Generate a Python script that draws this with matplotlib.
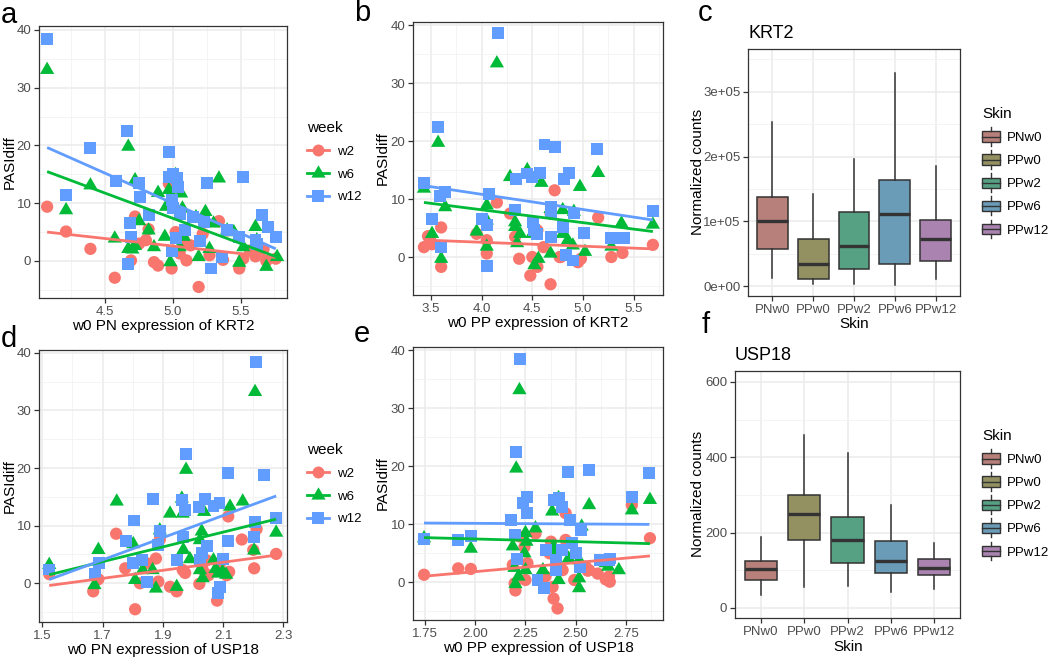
import numpy as np
import matplotlib
matplotlib.use("Agg")
import matplotlib.pyplot as plt
from matplotlib.lines import Line2D
from matplotlib.patches import Patch, Rectangle
from matplotlib.legend_handler import HandlerBase
from matplotlib.ticker import FixedLocator, FormatStrFormatter

plt.rcParams['font.family'] = ['Liberation Sans', 'DejaVu Sans']

# ---------------- data ----------------
week_labels = ['w2', 'w6', 'w12']
week_colors = ['#F8766D', '#00BA38', '#619CFF']

# panel a: w0 PN expression of KRT2
a_w2_x = [4.07, 4.21, 4.39, 4.57, 4.69, 4.72, 4.75, 4.82, 4.86, 4.89, 4.99, 4.97, 5.02, 5.05, 5.10, 5.13,
          5.19, 5.22, 5.27, 5.34, 5.37, 5.40, 5.49, 5.52, 5.61, 5.67, 5.69, 5.76, 5.57, 5.08, 4.80, 5.00]
a_w2_y = [9.4, 5.1, 2.1, -2.9, 0.1, 7.7, 3.0, 5.5, -0.2, -0.8, -1.3, 13.4, 5.0, 1.3, 0.1, 2.7,
          -4.5, 4.7, 1.0, 6.9, 0.2, 5.3, -1.3, 0.4, 0.8, 2.1, 0.0, 0.4, 1.8, 3.6, 3.6, 1.8]
a_w6_x = [4.07, 4.21, 4.39, 4.67, 4.57, 4.67, 4.72, 4.75, 4.82, 4.86, 4.89, 4.94, 4.98, 4.97, 5.02, 5.06,
          5.07, 5.08, 5.17, 5.19, 5.24, 5.27, 5.34, 5.40, 5.49, 5.52, 5.61, 5.69, 5.77, 5.62, 5.05, 4.95,
          5.45, 5.30, 4.70, 4.72]
a_w6_y = [33.1, 8.8, 13.1, 19.8, 3.9, 2.1, 14.0, 6.9, 5.3, 2.4, 11.8, 4.2, -0.2, 12.3, 14.9, 11.7,
          9.1, 4.2, 7.6, 0.7, 8.5, 2.1, 14.3, 5.3, -0.3, 2.4, 5.9, -1.0, 0.7, 3.6, 2.4, 9.4,
          5.0, 6.5, 2.0, 2.6]
a_w12_x = [4.07, 4.21, 4.39, 4.58, 4.66, 4.68, 4.69, 4.67, 4.75, 4.76, 4.82, 4.97, 4.97, 5.00, 5.03, 5.04,
           4.99, 5.00, 5.05, 5.09, 5.02, 4.99, 5.15, 5.20, 5.23, 5.25, 5.28, 5.36, 5.40, 5.49, 5.52, 5.61,
           5.62, 5.66, 5.70, 5.76]
a_w12_y = [38.5, 11.4, 19.5, 13.9, 22.5, 6.6, 4.2, -0.5, 13.5, 11.0, 8.0, 18.9, 14.6, 15.1, 14.3, 12.8,
           10.5, 9.1, 8.2, 5.3, 4.0, 1.8, 7.6, 3.4, 6.8, 13.5, -1.3, 0.7, 5.4, 4.2, 14.6, 3.6,
           2.9, 7.9, 5.9, 4.2]

# panel b: w0 PP expression of KRT2
b_w2_x = [3.43, 3.51, 3.60, 3.60, 3.49, 3.95, 4.05, 4.05, 4.15, 4.28, 4.33, 4.37, 4.48, 4.50, 4.55, 4.61,
          4.68, 4.72, 4.68, 4.78, 4.95, 4.98, 5.15, 5.28, 5.39, 4.55, 5.69, 3.47, 4.77]
b_w2_y = [1.7, 2.2, 5.1, -1.7, 3.0, 4.0, 0.6, 2.9, 9.4, 7.5, 3.5, -0.3, -3.2, 0.0, -1.7, 1.7,
          -4.7, 11.5, 7.5, 0.0, -0.9, -0.3, 6.8, 0.0, 0.7, 4.6, 2.1, 3.6, 0.0]
b_w6_x = [4.15, 3.57, 3.43, 3.51, 3.60, 3.64, 3.95, 4.05, 4.05, 4.05, 4.28, 4.33, 4.33, 4.38, 4.35, 4.45,
          4.59, 4.50, 4.52, 4.56, 4.68, 4.68, 4.80, 4.80, 4.85, 4.91, 4.97, 5.02, 4.90, 5.15, 5.38, 5.28, 5.69]
b_w6_y = [33.4, 19.7, 11.8, 4.0, -0.3, 8.6, 4.4, 1.8, 8.9, 6.3, 13.8, 6.0, 5.2, 4.0, 2.4, 15.0,
          12.8, 4.0, -1.4, -0.3, 8.3, 0.6, 8.1, 4.0, 2.9, 7.8, 12.1, 0.9, 2.0, 14.5, 5.8, 1.8, 5.6]
b_w12_x = [4.16, 3.57, 3.43, 3.51, 3.60, 3.59, 3.64, 4.07, 4.00, 4.05, 4.05, 4.33, 4.34, 4.45, 4.50, 4.58,
           4.62, 4.72, 4.51, 4.52, 4.55, 4.68, 4.68, 4.68, 4.80, 4.81, 4.86, 4.91, 4.83, 4.90, 5.01, 5.14,
           5.28, 5.38, 5.69, 5.41]
b_w12_y = [38.6, 22.4, 12.8, 6.5, 1.7, 10.6, 11.2, 10.8, 6.6, 5.5, -1.6, 8.1, 13.4, 14.4, 13.8, 14.5,
           19.4, 19.0, 6.0, 4.6, 4.0, 8.6, 7.5, 3.5, 5.2, 13.4, 14.5, 7.5, 0.3, -0.6, 4.1, 18.6,
           3.2, 3.2, 7.9, 3.2]

# panel d: w0 PN expression of USP18
d_w2_x = [1.523, 1.669, 1.686, 1.745, 1.775, 1.808, 1.824, 1.846, 1.877, 1.890, 1.885, 1.924, 1.946, 1.966,
          1.974, 2.021, 2.032, 2.051, 2.080, 2.090, 2.112, 2.120, 2.117, 2.162, 2.203, 2.200, 2.211, 2.276, 2.045]
d_w2_y = [1.6, -1.4, 0.7, 8.6, 2.6, -4.5, 0.0, 3.5, 4.3, 7.6, 0.3, -0.6, -1.4, 2.3,
          1.8, -0.1, 2.4, 1.4, -3.0, 3.5, 1.4, 2.0, 11.6, 7.6, 2.6, 5.8, 9.4, 5.1, 4.0]
d_w6_x = [2.206, 1.977, 1.747, 1.523, 1.686, 1.673, 1.802, 1.808, 1.833, 1.866, 1.877, 1.890, 1.924, 1.946,
          1.963, 1.966, 1.968, 1.990, 2.029, 2.023, 2.032, 2.037, 2.068, 2.084, 2.098, 2.123, 2.165, 2.203,
          2.276, 2.023, 2.110, 2.075]
d_w6_y = [33.2, 19.7, 14.2, 3.2, 5.8, -0.3, 6.8, 0.6, 2.3, 2.3, -0.9, 9.2, 12.1, -0.6,
          14.7, 12.1, 5.8, 4.2, 9.0, 2.3, 0.9, 12.4, 4.0, 1.7, 2.0, 13.3, 14.2, 5.7,
          8.8, 7.5, 1.5, 2.5]
d_w12_x = [2.209, 2.236, 2.117, 1.977, 1.868, 1.805, 1.778, 1.688, 1.675, 1.523, 1.802, 1.830, 1.846, 1.885,
           1.890, 1.946, 1.963, 1.974, 1.966, 2.021, 2.040, 2.068, 2.088, 2.029, 2.045, 2.023, 2.100, 2.090,
           2.084, 2.115, 2.203, 2.206, 2.276]
d_w12_y = [38.4, 18.8, 19.2, 22.5, 14.6, 10.9, 7.4, 3.5, 1.7, 2.4, 3.5, 4.0, 0.3, 6.6,
           9.0, 4.0, 14.5, 12.7, 8.0, 13.3, 14.7, 13.4, 13.9, 5.2, 6.4, 4.0, 4.2, -0.6,
           -1.7, 7.4, 8.1, 10.7, 11.4]

# panel e: w0 PP expression of USP18
e_w2_x = [1.745, 1.915, 1.978, 2.187, 2.196, 2.200, 2.220, 2.245, 2.260, 2.250, 2.300, 2.350, 2.377, 2.385,
          2.390, 2.410, 2.435, 2.450, 2.493, 2.550, 2.567, 2.666, 2.370, 2.450, 2.780, 2.870, 2.670, 2.560,
          2.610, 2.650]
e_w2_y = [1.3, 2.4, 2.3, 3.0, -0.2, -1.4, 7.9, 6.1, 3.3, 0.4, 8.4, 1.0, 7.0, -0.8,
          -2.8, -4.5, 2.1, 11.9, 0.4, 2.7, 2.1, 1.0, 5.0, 7.3, 13.3, 7.6, 0.1, 2.0,
          1.5, 0.5]
e_w6_x = [1.745, 1.978, 2.187, 2.200, 2.245, 2.250, 2.255, 2.300, 2.250, 2.337, 2.383, 2.415, 2.415, 2.400,
          2.465, 2.517, 2.517, 2.530, 2.567, 2.662, 2.220, 2.204, 2.390, 2.517, 2.780, 2.870, 2.715, 2.650,
          2.215, 2.195]
e_w6_y = [7.6, 5.8, 6.2, -0.3, 5.0, 8.5, 7.0, 9.3, 2.1, 2.1, 12.2, 14.5, 0.4, 5.5,
          4.1, 0.7, -1.0, 9.6, 13.3, 2.7, 33.1, 19.6, 6.1, 3.8, 12.4, 14.2, 2.1, 3.3,
          1.0, 2.5]
e_w12_x = [1.745, 1.915, 1.980, 2.180, 2.196, 2.210, 2.236, 2.256, 2.260, 2.350, 2.310, 2.344, 2.390, 2.418,
           2.430, 2.400, 2.400, 2.430, 2.460, 2.470, 2.480, 2.526, 2.520, 2.566, 2.670, 2.780, 2.867, 2.666,
           2.222, 2.205, 2.500, 2.620]
e_w12_y = [7.4, 7.3, 8.0, 10.7, 8.1, 4.0, 13.6, 14.7, 11.9, 5.6, 0.4, -1.0, 14.2, 14.5,
           13.0, 3.8, 2.1, 5.6, 19.0, 10.7, 6.7, 9.0, 2.7, 19.3, 4.1, 14.7, 18.8, 3.8,
           38.4, 22.5, 5.0, 3.9]

# boxplots
skin_groups = ['PNw0', 'PPw0', 'PPw2', 'PPw6', 'PPw12']
skin_colors = ['#B8807A', '#939162', '#56A084', '#6A9BB7', '#AA83B1']

krt2_whislo = [0.12e5, 0.03e5, 0.04e5, 0.02e5, 0.11e5]
krt2_q1 = [0.58e5, 0.11e5, 0.27e5, 0.35e5, 0.39e5]
krt2_med = [1.01e5, 0.35e5, 0.62e5, 1.12e5, 0.73e5]
krt2_q3 = [1.37e5, 0.73e5, 1.14e5, 1.64e5, 1.02e5]
krt2_whishi = [2.54e5, 1.43e5, 1.97e5, 3.29e5, 1.85e5]
krt2_yticks = [0, 1e5, 2e5, 3e5]
krt2_yticklabels = ['0e+00', '1e+05', '2e+05', '3e+05']

usp18_whislo = [34, 56, 58, 42, 50]
usp18_q1 = [75, 179, 119, 93, 88]
usp18_med = [104, 250, 181, 125, 105]
usp18_q3 = [125, 300, 240, 177, 130]
usp18_whishi = [187, 460, 410, 273, 173]
usp18_yticks = [0, 200, 400, 600]

# tick positions of scatter panels
a_xticks = [4.5, 5.0, 5.5]
b_xticks = [3.5, 4.0, 4.5, 5.0, 5.5]
d_xticks = [1.5, 1.7, 1.9, 2.1, 2.3]
e_xticks = [1.75, 2.00, 2.25, 2.50, 2.75]
pasi_yticks = [0, 10, 20, 30, 40]

# ---------------- figure ----------------
W, H = 1050, 658
fig = plt.figure(figsize=(W / 100, H / 100), dpi=100)
fig.patch.set_facecolor('white')

tri = [(0, 1), (-0.866, -0.5), (0.866, -0.5)]
week_markers = ['o', tri, 's']
week_sizes = [78, 140, 74]
week_msizes = [8.6, 11.8, 8.4]

def add_ax(l, r, t, b):
    return fig.add_axes([l / W, 1 - b / H, (r - l) / W, (b - t) / H])

def fx(px):
    return px / W

def fy(py):
    return 1 - py / H

def midpoints(ticks, lo, hi):
    step = ticks[1] - ticks[0]
    out = []
    v = ticks[0] - step / 2
    while v < hi + step:
        if lo < v < hi:
            out.append(v)
        v += step
    return out

def style(ax):
    ax.set_facecolor('white')
    for s in ax.spines.values():
        s.set_color('#333333')
        s.set_linewidth(0.9)
    ax.grid(which='major', color='#EBEBEB', lw=1.1)
    ax.grid(which='minor', color='#F2F2F2', lw=0.6)
    ax.set_axisbelow(True)
    ax.tick_params(which='major', length=3.5, width=0.9, color='#333333',
                   labelcolor='#4D4D4D', labelsize=9.5, pad=2)
    ax.tick_params(which='minor', length=0)

def place_labels(ax, xlabel, xpos, ylabel, ypos):
    ax.set_xlabel(xlabel, fontsize=11, color='black')
    ax.xaxis.set_label_coords(fx(xpos[0]), fy(xpos[1]), transform=fig.transFigure)
    ax.xaxis.label.set_va('center')
    ax.set_ylabel(ylabel, fontsize=11, color='black')
    ax.yaxis.set_label_coords(fx(ypos[0]), fy(ypos[1]), transform=fig.transFigure)
    ax.yaxis.label.set_va('center')

def scatter_panel(ax, series, xlim, ylim, xticks, xfmt):
    style(ax)
    for (x, y), c, m, s in zip(series, week_colors, week_markers, week_sizes):
        ax.scatter(x, y, marker=m, s=s, color=c, edgecolors='none', zorder=2)
    for (x, y), c in zip(series, week_colors):
        coef = np.polyfit(x, y, 1)
        xs = np.array([min(x), max(x)])
        ax.plot(xs, np.polyval(coef, xs), color=c, lw=2, zorder=3, solid_capstyle='butt')
    ax.set_xlim(*xlim)
    ax.set_ylim(*ylim)
    ax.xaxis.set_major_locator(FixedLocator(xticks))
    ax.xaxis.set_minor_locator(FixedLocator(midpoints(xticks, *xlim)))
    ax.xaxis.set_major_formatter(FormatStrFormatter(xfmt))
    ax.yaxis.set_major_locator(FixedLocator(pasi_yticks))
    ax.yaxis.set_minor_locator(FixedLocator(midpoints(pasi_yticks, *ylim)))

def box_panel(ax, whislo, q1, med, q3, whishi, ylim, yticks, yticklabels, title):
    style(ax)
    stats = [dict(whislo=a, q1=b, med=c, q3=d, whishi=e)
             for a, b, c, d, e in zip(whislo, q1, med, q3, whishi)]
    bp = ax.bxp(stats, positions=range(1, len(stats) + 1), widths=0.75, patch_artist=True,
                showfliers=False, showcaps=False,
                boxprops=dict(edgecolor='#333333', lw=1.1),
                whiskerprops=dict(color='#333333', lw=1.1),
                medianprops=dict(color='#333333', lw=2.4, solid_capstyle='butt'))
    for patch, col in zip(bp['boxes'], skin_colors):
        patch.set_facecolor(col)
    ax.set_xlim(0.4, len(stats) + 0.6)
    ax.set_ylim(*ylim)
    ax.set_xticks(range(1, len(stats) + 1))
    ax.set_xticklabels(skin_groups)
    ax.yaxis.set_major_locator(FixedLocator(yticks))
    ax.set_yticklabels(yticklabels)
    ax.yaxis.set_minor_locator(FixedLocator(midpoints(yticks, *ylim)))
    ax.set_title(title, loc='left', fontsize=13, pad=8)

# panel a
ax_a = add_ax(39, 287, 26, 298)
scatter_panel(ax_a, [(a_w2_x, a_w2_y), (a_w6_x, a_w6_y), (a_w12_x, a_w12_y)],
              (4.01, 5.843), (-6.41, 40.69), a_xticks, '%.1f')
place_labels(ax_a, 'w0 PN expression of KRT2', (163, 326), 'PASIdiff', (10, 162))

# panel b
ax_b = add_ax(413, 663, 22, 295)
scatter_panel(ax_b, [(b_w2_x, b_w2_y), (b_w6_x, b_w6_y), (b_w12_x, b_w12_y)],
              (3.322, 5.79), (-6.55, 40.52), b_xticks, '%.1f')
place_labels(ax_b, 'w0 PP expression of KRT2', (538, 323), 'PASIdiff', (383, 158))

# panel d
ax_d = add_ax(39, 287, 350, 622)
scatter_panel(ax_d, [(d_w2_x, d_w2_y), (d_w6_x, d_w6_y), (d_w12_x, d_w12_y)],
              (1.489, 2.312), (-6.71, 40.47), d_xticks, '%.1f')
place_labels(ax_d, 'w0 PN expression of USP18', (163, 650), 'PASIdiff', (10, 486))

# panel e
ax_e = add_ax(413, 663, 347, 620)
scatter_panel(ax_e, [(e_w2_x, e_w2_y), (e_w6_x, e_w6_y), (e_w12_x, e_w12_y)],
              (1.69, 2.935), (-6.49, 40.52), e_xticks, '%.2f')
place_labels(ax_e, 'w0 PP expression of USP18', (538, 648), 'PASIdiff', (383, 483))

# panel c
ax_c = add_ax(748, 960, 49, 296)
box_panel(ax_c, krt2_whislo, krt2_q1, krt2_med, krt2_q3, krt2_whishi, (-0.15e5, 3.66e5),
          krt2_yticks, krt2_yticklabels, 'KRT2')
place_labels(ax_c, 'Skin', (854, 324), 'Normalized counts', (698, 172))

# panel f
ax_f = add_ax(735, 960, 371, 618)
box_panel(ax_f, usp18_whislo, usp18_q1, usp18_med, usp18_q3, usp18_whishi, (-27, 629),
          usp18_yticks, [str(v) for v in usp18_yticks], 'USP18')
place_labels(ax_f, 'Skin', (848, 647), 'Normalized counts', (698, 494))

# week legends
week_handles = [Line2D([], [], color=c, marker=m, markersize=ms, lw=2, markeredgewidth=0)
                for c, m, ms in zip(week_colors, week_markers, week_msizes)]
for top in (121, 443):
    fig.legend(week_handles, week_labels, title='week', loc='upper left',
               bbox_to_anchor=(fx(307), fy(top)), frameon=False, fontsize=9.5,
               title_fontsize=11, handlelength=1.7, labelspacing=0.8, handletextpad=0.6,
               borderpad=0, borderaxespad=0, alignment='left')

# skin legends with box glyphs
class BoxHandler(HandlerBase):
    def create_artists(self, legend, orig_handle, xdescent, ydescent, width, height, fontsize, trans):
        x0, y0 = -xdescent, -ydescent
        rect = Rectangle((x0, y0), width, height, facecolor=orig_handle.get_facecolor(),
                         edgecolor='#333333', lw=1.0, transform=trans)
        med = Line2D([x0, x0 + width], [y0 + height / 2] * 2, color='#333333', lw=1.0, transform=trans)
        wt = Line2D([x0 + width / 2] * 2, [y0 + height, y0 + height + 3], color='#333333', lw=1.0,
                    transform=trans)
        wb = Line2D([x0 + width / 2] * 2, [y0, y0 - 3], color='#333333', lw=1.0, transform=trans)
        return [rect, med, wt, wb]

skin_handles = [Patch(facecolor=c) for c in skin_colors]
for top in (107, 429):
    fig.legend(skin_handles, skin_groups, title='Skin', loc='upper left',
               bbox_to_anchor=(fx(982), fy(top)), frameon=False, fontsize=9.5,
               title_fontsize=11, handlelength=1.35, handleheight=0.85, labelspacing=0.78,
               handletextpad=0.55, borderpad=0, borderaxespad=0, alignment='left',
               handler_map={Patch: BoxHandler()})

# panel letters
for letter, (px, py) in zip('abcdef', [(1, 23), (354, 21), (698, 21), (1, 347), (354, 342), (702, 333)]):
    fig.text(fx(px), fy(py), letter, fontsize=21, va='baseline', ha='left', color='black')

fig.savefig('out.png', dpi=100, facecolor='white')
